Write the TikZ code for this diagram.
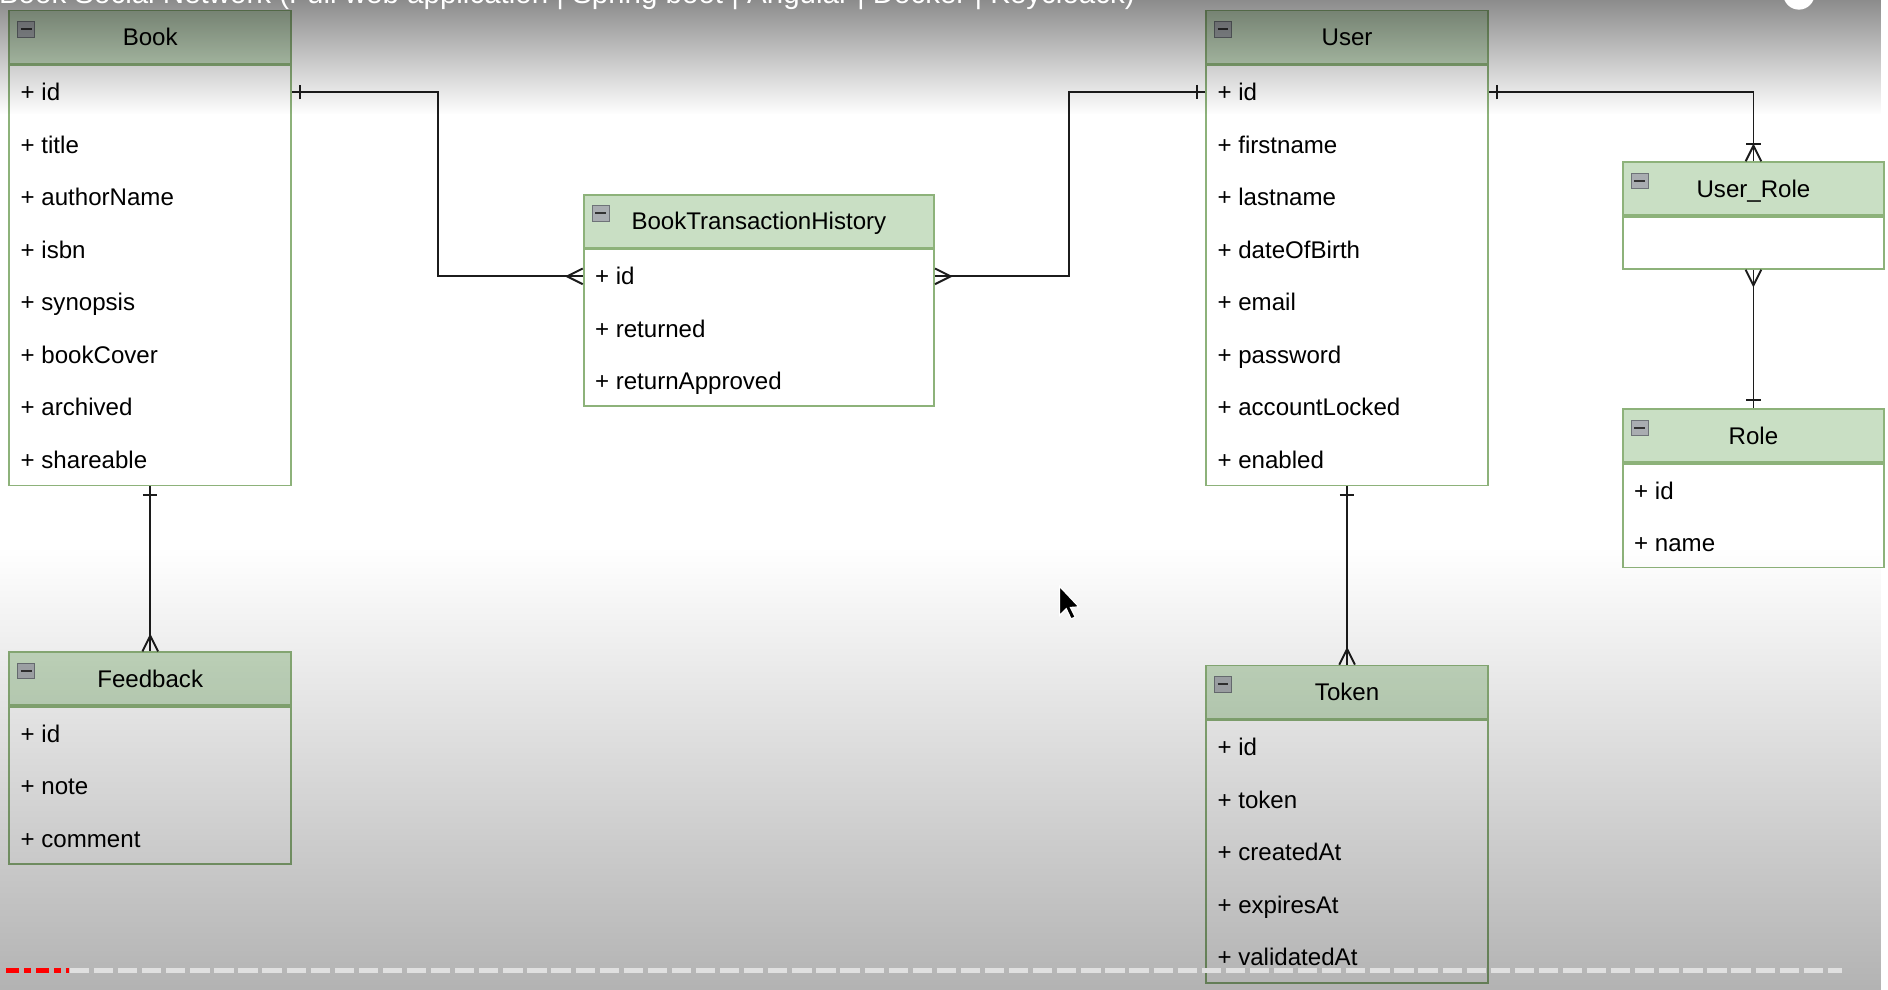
\documentclass[tikz,border=0pt]{standalone}
\usepackage{fontspec}
\setmainfont{Liberation Sans}
\usepackage{tikz}
\usetikzlibrary{
    positioning,
    fadings,
    decorations.markings,
}
\definecolor{entline}{HTML}{8DB27A}
\definecolor{enthead}{HTML}{C9DFC4}
\definecolor{iconfill}{HTML}{A9ADB1}
\definecolor{iconline}{HTML}{6E7378}
\definecolor{relline}{HTML}{1C1C1C}
\definecolor{barred}{HTML}{FF0000}
\newcommand{\fieldfont}{\fontsize{20}{24}\selectfont}
\tikzfading[name=fade top, top color=transparent!55, middle color=transparent!88, bottom color=transparent!100]
\tikzfading[name=fade bottom, top color=transparent!100, middle color=transparent!92, bottom color=transparent!70]
\tikzset{
    entity/.style={ % header of a table
        draw=entline, fill=enthead, line width=1.5pt, anchor=north west,
        inner sep=0pt, minimum height=44pt, text height=14pt, text depth=0pt, font=\fieldfont,
        path picture={
            \draw[iconline, fill=iconfill, line width=0.6pt] ([shift={(7pt,-9pt)}]path picture bounding box.north west) rectangle ++(14pt,-13pt);
            \draw[black!80, line width=1.6pt] ([shift={(9.5pt,-15.5pt)}]path picture bounding box.north west) -- ++(9pt,0pt);
        },
    },
    entbody/.style={draw=entline, fill=white, line width=1.5pt, inner sep=0pt, below=0pt of #1},
    field/.style={anchor=west, inner sep=0pt, text height=14pt, text depth=0pt, font=\fieldfont},
    firstrow/.style={at={([xshift=10pt,yshift=-23pt]#1.south west)}},
    rowafter/.style={at={([yshift=-43.6pt]#1.west)}},
    rel/.style={draw=relline, line width=1.6pt},
    one start/.style={postaction={decorate, decoration={markings,
        mark=at position 0 with {\draw[rel] (7pt,-6pt) -- (7pt,6pt);}}}},
    one end/.style={postaction={decorate, decoration={markings,
        mark=at position 0.9999 with {\draw[rel] (-7pt,-6pt) -- (-7pt,6pt);}}}},
    many start/.style={postaction={decorate, decoration={markings,
        mark=at position 0 with {\draw[rel] (0pt,6.5pt) -- (13pt,0pt) -- (0pt,-6.5pt);}}}},
    many end/.style={postaction={decorate, decoration={markings,
        mark=at position 0.9999 with {\draw[rel] (0pt,6.5pt) -- (-13pt,0pt) -- (0pt,-6.5pt);}}}},
    oneormany end/.style={many end, postaction={decorate, decoration={markings,
        mark=at position 0.9999 with {\draw[rel] (-14pt,-6pt) -- (-14pt,6pt);}}}},
}

\begin{document}
\begin{tikzpicture}[x=1pt, y=-1pt]
    \useasboundingbox[fill=white] (0,0) rectangle (1568,822);

    % Book
    \node[entity, minimum width=234pt] (book) at (7,8) {Book};
    \node[entbody=book, minimum width=234pt, minimum height=349pt] (book-b) {};
    \node[field, firstrow=book] (book-1) {+ id};
    \node[field, rowafter=book-1] (book-2) {+ title};
    \node[field, rowafter=book-2] (book-3) {+ authorName};
    \node[field, rowafter=book-3] (book-4) {+ isbn};
    \node[field, rowafter=book-4] (book-5) {+ synopsis};
    \node[field, rowafter=book-5] (book-6) {+ bookCover};
    \node[field, rowafter=book-6] (book-7) {+ archived};
    \node[field, rowafter=book-7] (book-8) {+ shareable};

    % Feedback
    \node[entity, minimum width=234pt] (fb) at (7,541) {Feedback};
    \node[entbody=fb, minimum width=234pt, minimum height=130pt] (fb-b) {};
    \node[field, firstrow=fb] (fb-1) {+ id};
    \node[field, rowafter=fb-1] (fb-2) {+ note};
    \node[field, rowafter=fb-2] (fb-3) {+ comment};

    % BookTransactionHistory
    \node[entity, minimum width=291pt] (bth) at (484,161) {BookTransactionHistory};
    \node[entbody=bth, minimum width=291pt, minimum height=130pt] (bth-b) {};
    \node[field, firstrow=bth] (bth-1) {+ id};
    \node[field, rowafter=bth-1] (bth-2) {+ returned};
    \node[field, rowafter=bth-2] (bth-3) {+ returnApproved};

    % User
    \node[entity, minimum width=234pt] (user) at (1001,8) {User};
    \node[entbody=user, minimum width=234pt, minimum height=349pt] (user-b) {};
    \node[field, firstrow=user] (user-1) {+ id};
    \node[field, rowafter=user-1] (user-2) {+ firstname};
    \node[field, rowafter=user-2] (user-3) {+ lastname};
    \node[field, rowafter=user-3] (user-4) {+ dateOfBirth};
    \node[field, rowafter=user-4] (user-5) {+ email};
    \node[field, rowafter=user-5] (user-6) {+ password};
    \node[field, rowafter=user-6] (user-7) {+ accountLocked};
    \node[field, rowafter=user-7] (user-8) {+ enabled};

    % User_Role
    \node[entity, minimum width=217pt] (ur) at (1347,134) {User\_Role};
    \node[entbody=ur, minimum width=217pt, minimum height=43pt] (ur-b) {};

    % Role
    \node[entity, minimum width=217pt] (role) at (1347,339) {Role};
    \node[entbody=role, minimum width=217pt, minimum height=86pt] (role-b) {};
    \node[field, firstrow=role] (role-1) {+ id};
    \node[field, rowafter=role-1] (role-2) {+ name};

    % Token
    \node[entity, minimum width=234pt] (tok) at (1001,552) {Token};
    \node[entbody=tok, minimum width=234pt, minimum height=218pt] (tok-b) {};
    \node[field, firstrow=tok] (tok-1) {+ id};
    \node[field, rowafter=tok-1] (tok-2) {+ token};
    \node[field, rowafter=tok-2] (tok-3) {+ createdAt};
    \node[field, rowafter=tok-3] (tok-4) {+ expiresAt};
    \node[field, rowafter=tok-4] (tok-5) {+ validatedAt};

    % relations
    \draw[rel, one start, many end] (book-b.east |- book-1) -- ++(121,0) |- (bth-b.west |- bth-1);
    \draw[rel, one start, many end] (user-b.west |- user-1) -- ++(-113,0) |- (bth-b.east |- bth-1);
    \draw[rel, one start, oneormany end] (user-b.east |- user-1) -| (ur.north);
    \draw[rel, many start, one end] (ur-b.south) -- (role.north);
    \draw[rel, one start, many end] (book-b.south) -- (fb.north);
    \draw[rel, one start, many end] (user-b.south) -- (tok.north);

    % video overlay
    \fill[black, path fading=fade top] (0,0) rectangle (1568,95);
    \fill[black, path fading=fade bottom] (0,455) rectangle (1568,822);
    \node[anchor=base west, inner sep=0pt, text=white, font=\fontsize{24.5}{28}\selectfont] (title) at (-1,3)
        {Book Social Network (Full web application | Spring boot | Angular | Docker | Keycloack)};
    \fill[white] (1494,-5) circle (13);
    \fill[black, draw=white, line width=1pt, shift={(880,487)}]
        (0,0) -- (0,24) -- (5.5,18.5) -- (9.5,27) -- (13,25.5) -- (9,17.5) -- (16,17) -- cycle;
    \draw[white!88!black, line width=4pt, dash pattern=on 16pt off 4pt] (58,806) -- (1530,806);
    \draw[barred, line width=4pt, dash pattern=on 11pt off 4pt on 6pt off 4pt] (5,806) -- (57,806);
\end{tikzpicture}
\end{document}
